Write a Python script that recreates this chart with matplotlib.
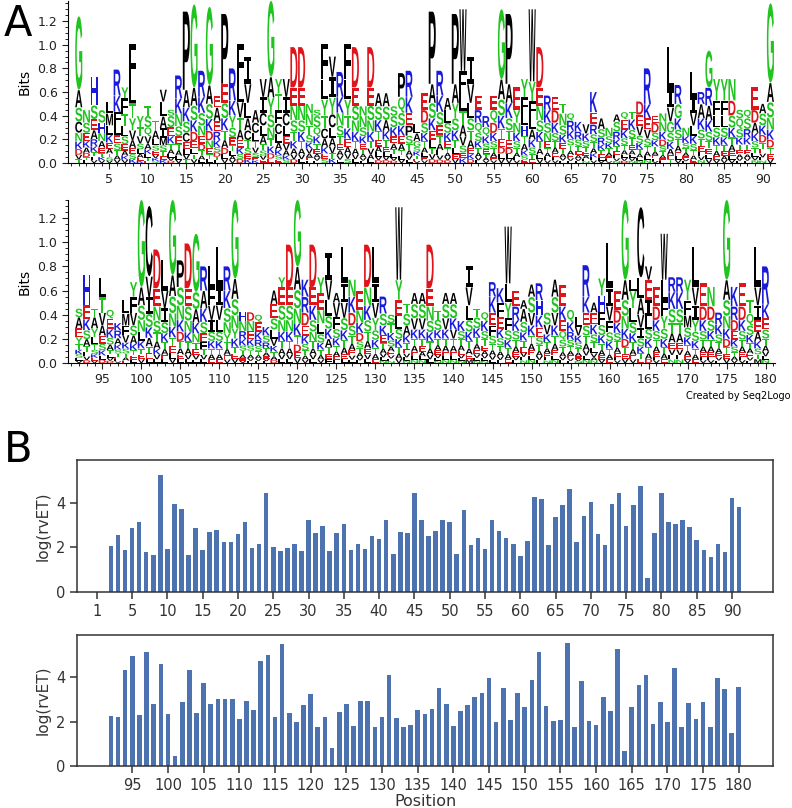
import matplotlib
matplotlib.use("Agg")
import matplotlib.pyplot as plt
from matplotlib.textpath import TextPath
from matplotlib.patches import PathPatch
from matplotlib.transforms import Affine2D
from matplotlib.font_manager import FontProperties
from matplotlib.ticker import MultipleLocator

# ---------------- panel A: sequence logo (positions 1-91 and 92-180) ----------------
logo1_start = 1
logo1_main = "G-H-LRYF-T-VSRPGRGEPRFI-VGYVDDNSFVRFDNDAASPR-EPRAPWIE-EGPEYWDRETQ--K--AQTDREN" \
             "LR-LRGYYNSQEAG"
logo1_hi = [1.24, 0.45, 0.73, 0.45, 0.52, 0.79, 0.64, 1.01, 0.40, 0.48,
            0.36, 0.62, 0.45, 0.74, 1.28, 1.34, 0.78, 1.32, 0.57, 1.26,
            0.80, 1.01, 0.90, 0.45, 0.71, 1.37, 0.71, 0.71, 0.98, 0.98,
            0.50, 0.45, 1.01, 0.90, 0.77, 1.01, 0.98, 0.48, 0.98, 0.59,
            0.59, 0.48, 0.76, 0.78, 0.33, 0.59, 1.28, 0.78, 0.55, 1.26,
            1.30, 0.90, 0.57, 0.40, 0.57, 1.30, 1.26, 0.64, 0.71, 1.30,
            0.98, 0.57, 0.56, 0.50, 0.42, 0.35, 0.33, 0.60, 0.38, 0.30,
            0.41, 0.43, 0.43, 0.52, 0.80, 0.40, 0.42, 0.98, 0.66, 0.30,
            0.77, 0.60, 0.95, 0.71, 0.71, 0.71, 0.45, 0.45, 0.64, 0.50, 1.35]
logo1_lo = [0.62, 0.45, 0.49, 0.45, 0.42, 0.57, 0.55, 0.67, 0.40, 0.40,
            0.36, 0.52, 0.40, 0.55, 0.62, 0.64, 0.56, 0.66, 0.47, 0.67,
            0.53, 0.68, 0.67, 0.45, 0.56, 0.73, 0.59, 0.56, 0.64, 0.64,
            0.42, 0.40, 0.71, 0.73, 0.56, 0.71, 0.64, 0.40, 0.64, 0.48,
            0.48, 0.40, 0.56, 0.56, 0.33, 0.45, 0.67, 0.57, 0.45, 0.67,
            0.78, 0.67, 0.45, 0.40, 0.45, 0.71, 0.67, 0.45, 0.56, 0.69,
            0.64, 0.45, 0.45, 0.42, 0.36, 0.35, 0.33, 0.43, 0.38, 0.30,
            0.35, 0.37, 0.37, 0.41, 0.50, 0.34, 0.35, 0.62, 0.50, 0.30,
            0.56, 0.50, 0.64, 0.53, 0.53, 0.53, 0.38, 0.38, 0.45, 0.42, 0.68]
logo1_rest = [
    "ASCNKDVT", "NSEKADTL", "SEARKTLV", "SHNAETKV", "MLKEATSV", "KFLESTAV", "FTLSEAKV",
    "LTYVAESK", "YTVSLAEK", "SQVAKLTE", "TALSEVKQ", "LAIMSTEK", "SEKTALVD", "KNSETALV",
    "AKSCELVT", "ASKDELTV", "KSNEDTAL", "ASKDNETL", "AERKSDTL", "ESKTADLV", "KYSETLAV",
    "LVTAEKSD", "VLACTSEK", "ACLTVSEK", "ICLATSVE", "AYSNTKDE", "TFCLAKSE", "ICLEVAKS",
    "ENSTKAVD", "ENSKTAVL", "NTSKVAEL", "SQKTEAVL", "LYTCAKES", "IYCLAVTK", "KNSTEAVL",
    "LYTKEAVS", "ESNKTAVL", "NSKETAVL", "ESNKTVAL", "SKTEALVD", "SAKTELVD", "SKEATLVD",
    "QSKEATLV", "KEPSTAVL", "LAGSKTEV", "DSKTALEV", "ASKELTVD", "KSETALVD", "LSKETAVD",
    "AYSKTLEV", "FLTAVSEK", "VLSTAEKD", "RQSKTAVL", "RQKSETAV", "QDKSTAEV", "ASKTEDLV",
    "AKSTEDLV", "YNKSTALV", "FLHTAKSE", "YFLAKSTE", "ENSKTALV", "KSNETALV", "DKSTAELV",
    "NSKETAVL", "RKSTAEVL", "KRSTEAVL", "VKSTEALN", "ERSTAKLV", "ASRKTELV", "NSKTAELV",
    "SRKTELVN", "EKSTALVD", "KSTEALVN", "EVSKTALN", "KEVSTALN", "DSKTAELV", "NKDSTAEL",
    "IVGSKAET", "GKSTAELV", "NKSTAEVL", "IVLKSTAE", "AKSTELVN", "RAKSTELV", "FLSKTAEV",
    "FLSKTEAV", "DSKTAELV", "QSKTEAVL", "SRKTEAVL", "DAKSTLVN", "SKDTEVLN", "ASNKDTEV"]

logo2_start = 92
logo2_main = "SHTLQKLYGCDLGPDGRLLRGHDQ-AYDGKDYIALNEDLRSWTAADTAA-ITQRKWEAAR-AEQLRAYLEGLCVEWRRYL" \
             "EN-GKETLR"
logo2_hi = [0.45, 0.73, 0.45, 0.70, 0.44, 0.33, 0.52, 0.67, 1.35, 1.30,
            0.94, 0.85, 1.35, 0.85, 0.99, 1.07, 0.80, 0.80, 0.96, 0.80,
            1.35, 0.42, 0.42, 0.40, 0.30, 0.60, 0.71, 0.98, 1.35, 0.69,
            0.98, 0.71, 0.91, 0.58, 0.96, 0.69, 0.60, 0.98, 0.96, 0.55,
            0.40, 1.29, 0.49, 0.58, 0.58, 0.98, 0.43, 0.58, 0.58, 0.35,
            0.80, 0.45, 0.42, 0.67, 0.62, 1.13, 0.60, 0.52, 0.65, 0.66,
            0.42, 0.69, 0.65, 0.44, 0.38, 0.81, 0.50, 0.70, 0.99, 0.60,
            1.35, 0.69, 1.29, 0.80, 0.63, 1.07, 0.71, 0.71, 0.69, 0.96,
            0.66, 0.63, 0.42, 1.35, 0.63, 0.66, 0.52, 0.96, 0.80]
logo2_lo = [0.38, 0.48, 0.38, 0.55, 0.37, 0.27, 0.41, 0.55, 0.63, 0.72,
            0.62, 0.60, 0.73, 0.63, 0.62, 0.59, 0.60, 0.63, 0.63, 0.60,
            0.70, 0.35, 0.35, 0.34, 0.30, 0.49, 0.63, 0.63, 0.80, 0.55,
            0.63, 0.58, 0.69, 0.50, 0.66, 0.55, 0.44, 0.63, 0.66, 0.41,
            0.33, 0.69, 0.41, 0.49, 0.49, 0.62, 0.36, 0.49, 0.49, 0.35,
            0.63, 0.38, 0.35, 0.55, 0.50, 0.66, 0.47, 0.45, 0.55, 0.52,
            0.42, 0.55, 0.47, 0.34, 0.30, 0.55, 0.42, 0.56, 0.62, 0.44,
            0.69, 0.60, 0.71, 0.69, 0.47, 0.69, 0.59, 0.59, 0.52, 0.63,
            0.47, 0.47, 0.42, 0.69, 0.47, 0.47, 0.41, 0.63, 0.49]
logo2_rest = [
    "AEYTKSLV", "EKSATLVD", "AYLTSKEV", "TVAESKLD", "EKSATLVD", "RAKSTELV", "MFVKSTAE",
    "FVSAKTEL", "ASNLKTEV", "VISKATEL", "ENSTAKVL", "VISKTAEL", "ASNKTELV", "SNKDTAEL",
    "ESNKTAVL", "SAKNTEVL", "AKSEFTVL", "FVISKTAE", "IVLSKTAE", "KSNYTAEV", "ASNYKTEV",
    "NRKSTAEV", "NEKSTAVL", "EKRSTAVL", "KSRTAEVL", "ESLVKTAD", "ESNKTAVL", "ESNKTAVL",
    "ASNKTDEV", "RDEKSTAV", "EKSNTAVL", "ENLSKTAV", "VLSKATEF", "VFSKTAEL", "IVSKTAEL",
    "KDSTAEVL", "NKDSTAVL", "NKSTAEVL", "IVYSKTAE", "SKETAVLN", "TKSAEVLN", "YELSKTAV",
    "SAKTEVLN", "SVKTAELN", "SVKTEALN", "ENSKTAVL", "SKTAEVLN", "SVKTAELN", "SKVTAELN",
    "KSTAEVLN", "VLSKTAEM", "SKTAEVLN", "KSTEAVLN", "KEFSTAVL", "FEKSTAVL", "LYFSKTAE",
    "RKSTAEVL", "ASKTEVLN", "SVKTAELN", "HKESTAVL", "SVKTAELN", "SVKTAELN", "KEQSTAVL",
    "KRSTAEVL", "VKSTAEVN", "KESTAVLN", "EKSTLVAN", "HFSKTAEV", "IVFSKTAE", "DKSTAELV",
    "ASNKDTEV", "YLSKTAEV", "LAVISKTE", "EILSKTAD", "DKSTAELV", "LFYSKTAE", "KSTAEVLN",
    "KSTAEVLN", "FMSKTAEV", "VIYSKTAE", "DKSTAELV", "DSKTAELV", "RKSTAEVL", "ASNKDTEV",
    "RDEKSTAV", "DKSTAELV", "QSKTAEVL", "VIEAKSTM", "KESTAVLN"]

# ---------------- panel B: rvET bars ----------------
rvet1_start = 2
rvet1 = [2.08, 2.56, 1.87, 2.88, 3.16, 1.80, 1.66, 5.24, 1.92, 3.93,
         3.72, 1.66, 2.88, 1.87, 2.67, 2.77, 2.25, 2.25, 2.59, 3.16,
         1.98, 2.14, 4.42, 2.01, 1.84, 1.98, 2.17, 1.84, 3.21, 2.64,
         2.98, 1.84, 2.64, 3.04, 1.87, 2.17, 1.95, 2.50, 2.37, 3.21,
         1.69, 2.67, 2.64, 4.45, 3.21, 2.53, 2.74, 3.21, 3.16, 1.69,
         3.67, 2.11, 2.43, 1.92, 3.22, 2.74, 2.40, 2.17, 1.63, 2.29,
         4.24, 4.16, 2.11, 3.36, 3.88, 4.64, 2.25, 3.40, 4.03, 2.59,
         2.11, 3.96, 4.42, 2.98, 3.88, 4.75, 0.63, 2.64, 4.42, 3.12,
         3.07, 3.22, 2.91, 2.35, 1.90, 1.59, 2.17, 1.80, 4.22, 3.82]
rvet1_ticks = [0, 5, 10, 15, 20, 25, 30, 35, 40, 45, 50, 55, 60, 65, 70, 75, 80, 85, 90]
rvet1_labels = ["1", "5", "10", "15", "20", "25", "30", "35", "40", "45",
                "50", "55", "60", "65", "70", "75", "80", "85", "90"]

rvet2_start = 92
rvet2 = [2.26, 2.23, 4.34, 4.97, 2.31, 5.15, 2.79, 4.63, 2.34, 0.46,
         2.89, 4.34, 2.40, 3.73, 2.82, 3.03, 3.03, 3.03, 2.13, 2.92,
         2.53, 4.76, 5.00, 2.23, 5.50, 2.40, 1.99, 2.76, 3.24, 1.77,
         2.23, 0.81, 2.44, 2.82, 1.81, 2.92, 2.92, 1.74, 2.23, 4.10,
         2.19, 1.77, 1.87, 2.53, 2.37, 2.58, 3.51, 2.79, 1.81, 2.50,
         2.76, 3.10, 3.31, 3.97, 1.98, 3.54, 2.08, 3.30, 2.68, 3.90,
         5.15, 2.71, 2.05, 2.08, 5.57, 1.78, 3.84, 2.02, 1.86, 3.10,
         2.49, 5.29, 0.70, 2.68, 3.66, 4.10, 1.89, 2.89, 1.99, 4.42,
         1.78, 2.85, 2.13, 2.89, 1.74, 3.97, 3.48, 1.47, 3.55]
rvet2_ticks = [95, 100, 105, 110, 115, 120, 125, 130, 135, 140, 145, 150,
               155, 160, 165, 170, 175, 180]

for seq, hi, lo, rest in [(logo1_main, logo1_hi, logo1_lo, logo1_rest),
                          (logo2_main, logo2_hi, logo2_lo, logo2_rest)]:
    assert len(seq) == len(hi) == len(lo) == len(rest), (len(seq), len(hi), len(lo), len(rest))

aa_colors = {}
for c in "GSTYNQ":
    aa_colors[c] = "#1fc41f"
for c in "DE":
    aa_colors[c] = "#e0141b"
for c in "KRH":
    aa_colors[c] = "#1a1adb"
for c in "ACFILMPVW":
    aa_colors[c] = "black"

font_main = FontProperties(family="Liberation Sans", weight="bold")
font_i = FontProperties(family="DejaVu Sans Mono", weight="bold")
path_cache = {}


def letter(ax, ch, x, y0, h, w=0.92):
    if h < 0.003:
        return
    if ch not in path_cache:
        tp = TextPath((0, 0), ch, size=1, prop=font_i if ch == "I" else font_main)
        path_cache[ch] = (tp, tp.get_extents())
    tp, ext = path_cache[ch]
    tr = Affine2D().translate(-ext.x0, -ext.y0).scale(w / ext.width, h / ext.height) \
        .translate(x - w / 2, y0)
    ax.add_patch(PathPatch(tr.transform_path(tp), fc=aa_colors[ch], ec="none", lw=0))


def draw_logo(ax, start, seq, hi, lo, rest):
    for i in range(len(seq)):
        x = start + i
        if seq[i] != "-":
            letter(ax, seq[i], x, lo[i], hi[i] - lo[i])
        ws = [0.8 ** k for k in range(len(rest[i]))]
        tot = sum(ws)
        top = lo[i]
        for ch, wk in zip(rest[i], ws):
            hh = lo[i] * wk / tot
            letter(ax, ch, x, top - hh, hh * 0.97)
            top -= hh


fig = plt.figure(figsize=(7.92, 8.08), dpi=100)

ax1 = fig.add_axes([68 / 792, 1 - 163 / 808, 707 / 792, 162 / 808])
ax2 = fig.add_axes([68 / 792, 1 - 363 / 808, 707 / 792, 163 / 808])
draw_logo(ax1, logo1_start, logo1_main, logo1_hi, logo1_lo, logo1_rest)
draw_logo(ax2, logo2_start, logo2_main, logo2_hi, logo2_lo, logo2_rest)
ax1.set_xlim(-0.4, 91.6)
ax1.set_ylim(0, 1.37)
ax2.set_xlim(90.6, 181.2)
ax2.set_ylim(0, 1.35)
ax1.set_xticks(range(5, 91, 5))
ax2.set_xticks(range(95, 181, 5))
for ax in (ax1, ax2):
    for s in ("top", "right"):
        ax.spines[s].set_visible(False)
    ax.spines["left"].set_linewidth(0.8)
    ax.spines["bottom"].set_linewidth(0.8)
    ax.set_yticks([0.0, 0.2, 0.4, 0.6, 0.8, 1.0, 1.2])
    ax.yaxis.set_major_formatter(plt.FormatStrFormatter("%.1f"))
    ax.yaxis.set_minor_locator(MultipleLocator(0.05))
    ax.xaxis.set_minor_locator(MultipleLocator(1))
    ax.tick_params(axis="both", which="major", labelsize=9, length=4, width=0.8, colors="#222222")
    ax.tick_params(axis="both", which="minor", length=2, width=0.6)
    ax.set_ylabel("Bits", fontsize=10, labelpad=4)

fig.text(4 / 792, 1 - 36 / 808, "A", fontsize=30)
fig.text(790 / 792, 1 - 399 / 808, "Created by Seq2Logo", fontsize=7, ha="right", va="baseline")

# panel B
bar_color = "#4c72b0"
ax3 = fig.add_axes([77 / 792, 1 - 592 / 808, 696 / 792, 132 / 808])
ax4 = fig.add_axes([77 / 792, 1 - 766 / 808, 696 / 792, 131 / 808])
ax3.bar(range(rvet1_start, rvet1_start + len(rvet1)), rvet1, width=0.65, color=bar_color)
ax4.bar(range(rvet2_start, rvet2_start + len(rvet2)), rvet2, width=0.65, color=bar_color)
ax3.set_xlim(-2.8, 95.8)
ax4.set_xlim(87.25, 184.8)
ax3.set_xticks(rvet1_ticks)
ax3.set_xticklabels(rvet1_labels)
ax4.set_xticks(rvet2_ticks)
for ax in (ax3, ax4):
    ax.set_ylim(0, 5.92)
    ax.set_yticks([0, 2, 4])
    for s in ax.spines.values():
        s.set_color("#333333")
        s.set_linewidth(1.1)
    ax.tick_params(labelsize=10.5, length=5, width=1.1, colors="#333333")
    ax.set_ylabel("log(rvET)", fontsize=11, color="#333333")
ax4.set_xlabel("Position", fontsize=11.5, color="#333333", labelpad=1)

fig.text(4 / 792, 1 - 462 / 808, "B", fontsize=30)

fig.savefig("out.png", dpi=100)
